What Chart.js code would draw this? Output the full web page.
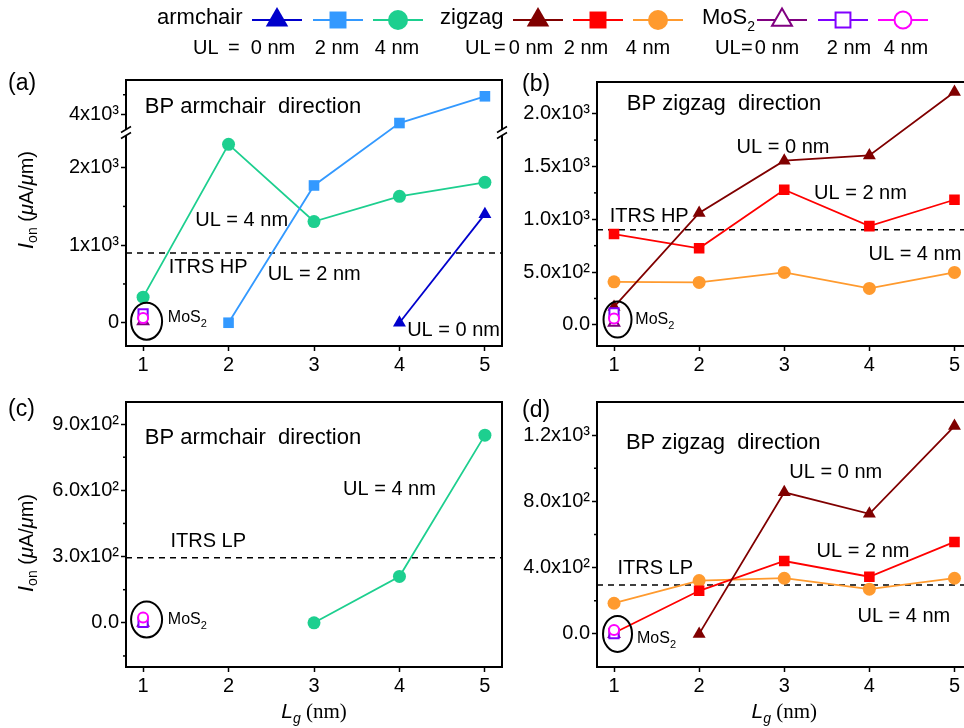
<!DOCTYPE html>
<html>
<head>
<meta charset="utf-8">
<script src="https://cdn.jsdelivr.net/npm/chart.js@4.4.1/dist/chart.umd.min.js"></script>
<style>
  html, body { margin: 0; padding: 0; background: #fff; }
  body { position: relative; width: 964px; height: 728px; overflow: hidden; }
  canvas { position: absolute; }
</style>
</head>
<body>
<canvas id="legend" width="964" height="62" style="left:0px;top:0px"></canvas>
<canvas id="pa" width="515" height="312" style="left:0px;top:60px"></canvas>
<canvas id="pb" width="500" height="312" style="left:480px;top:60px"></canvas>
<canvas id="pc" width="515" height="348" style="left:0px;top:380px"></canvas>
<canvas id="pd" width="500" height="348" style="left:480px;top:380px"></canvas>
<script>
// gate length (nm)
const lg = [1, 2, 3, 4, 5];
const ulValues = [0, 2, 4];

// on-current, high-performance devices (uA/um)
const armHP0 = [null, null, null, 0, 1400];
const armHP2 = [null, 0, 1770, 3885, 4230];
const armHP4 = [330, 2300, 1305, 1630, 1810];
const zigHP0 = [170, 1060, 1555, 1605, 2205];
const zigHP2 = [860, 725, 1280, 935, 1185];
const zigHP4 = [408, 402, 497, 345, 497];
const mosHP = [20, 115, 60];   // MoS2 at Lg = 1 nm, UL = 0 / 2 / 4 nm

// on-current, low-power devices (uA/um)
const armLP4 = [null, null, 0, 210, 850];
const zigLP0 = [null, 0, 855, 725, 1255];
const zigLP2 = [5, 260, 440, 345, 555];
const zigLP4 = [185, 322, 336, 270, 336];
const mosLP = [0, 2, 24];

const itrsHP = 900;
const itrsLP = 295;

// y ticks per panel
const ticksA = [0, 1000, 2000, 4000];
const labelsA = ['0', '1x10³', '2x10³', '4x10³'];
const minorA = [500, 1500, 4250];
const ticksB = [0, 500, 1000, 1500, 2000];
const labelsB = ['0.0', '5.0x10²', '1.0x10³', '1.5x10³', '2.0x10³'];
const minorB = [250, 750, 1250, 1750];
const ticksC = [0, 300, 600, 900];
const labelsC = ['0.0', '3.0x10²', '6.0x10²', '9.0x10²'];
const minorC = [-150, 150, 450, 750];
const ticksD = [0, 400, 800, 1200];
const labelsD = ['0.0', '4.0x10²', '8.0x10²', '1.2x10³'];
const minorD = [200, 600, 1000];

// the armchair HP axis skips this range
const AXIS_BREAK = [2440, 3750];

const FONT = '"Liberation Sans", Arial, sans-serif';
const SERIF = '"Liberation Serif", "Times New Roman", serif';

const styles = {
  arm0: { color: '#0000CC', shape: 'triangle', r: 7.5 },
  arm2: { color: '#3399FF', shape: 'rect', r: 7.5 },
  arm4: { color: '#1DCF8F', shape: 'circle', r: 6.5 },
  zig0: { color: '#800000', shape: 'triangle', r: 7.5 },
  zig2: { color: '#FF0000', shape: 'rect', r: 7.5 },
  zig4: { color: '#FF9A2E', shape: 'circle', r: 6.5 },
  mos0: { color: '#800080', shape: 'triangle', r: 6, hollow: true },
  mos2: { color: '#8000FF', shape: 'rect', r: 6.5, hollow: true },
  mos4: { color: '#FF00FF', shape: 'circle', r: 5, hollow: true }
};

// linear scale with a cut-out band of values
class BrokenLinearScale extends Chart.LinearScale {
  static id = 'brokenLinear';
  static defaults = {};
  squash(v) {
    const [lo, hi] = AXIS_BREAK;
    if (v <= lo) return v;
    if (v >= hi) return v - (hi - lo);
    return lo;
  }
  getPixelForValue(v) {
    if (v === null || v === undefined || isNaN(v)) return NaN;
    const a = this.squash(this.min), b = this.squash(this.max);
    return this.getPixelForDecimal((this.squash(v) - a) / (b - a));
  }
  getValueForPixel(p) {
    const a = this.squash(this.min), b = this.squash(this.max);
    const s = a + this.getDecimalForPixel(p) * (b - a);
    const [lo, hi] = AXIS_BREAK;
    return s <= lo ? s : s + (hi - lo);
  }
}
Chart.register(BrokenLinearScale);

function fontOf(p) {
  return (p.it ? 'italic ' : '') + p.s + 'px ' + (p.serif ? SERIF : FONT);
}

// draws a run of text pieces with their own size / offset
function rich(ctx, x, y, parts, align) {
  ctx.textAlign = 'left';
  let w = 0;
  parts.forEach(p => { ctx.font = fontOf(p); w += ctx.measureText(p.t).width; });
  let cx = align === 'center' ? x - w / 2 : x;
  parts.forEach(p => {
    ctx.font = fontOf(p);
    ctx.fillText(p.t, cx, y + (p.dy || 0));
    cx += ctx.measureText(p.t).width;
  });
}

const txt = (t, s = 20) => [{ t, s }];
const mosText = [{ t: 'MoS', s: 16 }, { t: '2', s: 11, dy: 6 }];

function toPoints(ys) {
  return lg.map((x, i) => ({ x, y: ys[i] })).filter(p => p.y !== null);
}

function lineSet(ys, st) {
  return {
    data: toPoints(ys),
    borderColor: st.color,
    backgroundColor: st.color,
    borderWidth: 1.8,
    pointStyle: st.shape,
    pointRadius: st.r,
    pointBorderWidth: 0,
    pointBackgroundColor: st.color
  };
}

function mosSet(v, st) {
  return {
    data: [{ x: lg[0], y: v }],
    showLine: false,
    borderColor: st.color,
    backgroundColor: '#fff',
    pointStyle: st.shape,
    pointRadius: st.r,
    pointBorderWidth: 2,
    pointBorderColor: st.color,
    pointBackgroundColor: '#fff'
  };
}

function itrsSet(v) {
  return {
    data: [{ x: 0.8, y: v }, { x: 5.2, y: v }],
    borderColor: '#000',
    borderWidth: 1.5,
    borderDash: [6, 5],
    pointRadius: 0
  };
}

function line(ctx, x1, y1, x2, y2) {
  ctx.beginPath();
  ctx.moveTo(x1, y1);
  ctx.lineTo(x2, y2);
  ctx.stroke();
}

function decor(p) {
  return {
    id: 'decor',
    afterDraw(chart) {
      const { ctx, chartArea: ca } = chart;
      const xs = chart.scales.x, ys = chart.scales.y;
      ctx.save();
      ctx.strokeStyle = '#000';
      ctx.fillStyle = '#000';

      ctx.lineWidth = 1.5;
      p.minor.forEach(v => {
        const py = ys.getPixelForValue(v);
        line(ctx, ca.left - 3, py, ca.left, py);
      });

      ctx.lineWidth = 2;
      ctx.strokeRect(ca.left, ca.top, ca.right - ca.left, ca.bottom - ca.top);

      if (p.broken) {
        const yb = ys.getPixelForValue(AXIS_BREAK[0]) - 1;
        [ca.left, ca.right].forEach(ax => {
          ctx.fillStyle = '#fff';
          ctx.fillRect(ax - 2, yb - 3, 4, 6);
          ctx.lineWidth = 1.5;
          [-3, 3].forEach(d => line(ctx, ax - 5, yb + d + 3, ax + 5, yb + d - 3));
        });
        ctx.fillStyle = '#000';
      }

      // ring around the MoS2 points
      ctx.lineWidth = 2;
      ctx.beginPath();
      ctx.ellipse(xs.getPixelForValue(lg[0]) + 3.5, ys.getPixelForValue(p.ring.y),
        p.ring.rx, p.ring.ry, 0, 0, Math.PI * 2);
      ctx.stroke();

      ctx.textBaseline = 'middle';
      p.notes.forEach(n => rich(ctx, xs.getPixelForValue(n.x), ys.getPixelForValue(n.y), n.parts));

      rich(ctx, p.letter.x, p.letter.y, txt(p.letter.t, 23));

      if (p.yTitle) {
        ctx.save();
        ctx.translate(27, p.yTitle);
        ctx.rotate(-Math.PI / 2);
        rich(ctx, 0, 0, [
          { t: 'I', s: 22, it: true }, { t: 'on', s: 14, dy: 6 },
          { t: ' (', s: 20 }, { t: 'μ', s: 20, it: true }, { t: 'A/', s: 20 },
          { t: 'μ', s: 20, it: true }, { t: 'm)', s: 20 }
        ], 'center');
        ctx.restore();
      }
      if (p.xTitle) {
        rich(ctx, (ca.left + ca.right) / 2, p.xTitle, [
          { t: 'L', s: 21, it: true }, { t: 'g', s: 14, it: true, dy: 7 },
          { t: ' (nm)', s: 21, serif: true }
        ], 'center');
      }
      ctx.restore();
    }
  };
}

function makePanel(id, p) {
  return new Chart(document.getElementById(id), {
    type: 'line',
    data: { datasets: p.datasets },
    options: {
      responsive: false,
      animation: false,
      devicePixelRatio: 1,
      events: [],
      layout: { padding: { left: 0, top: p.top, right: p.right, bottom: 0 } },
      plugins: { legend: { display: false }, tooltip: { enabled: false } },
      scales: {
        x: {
          type: 'linear', min: 0.8, max: 5.2,
          afterBuildTicks: s => { s.ticks = lg.map(v => ({ value: v })); },
          afterFit: s => { s.height = p.xh; },
          grid: { drawOnChartArea: false, tickLength: 5, tickWidth: 1.5, tickColor: '#000' },
          border: { color: '#000', width: 2 },
          ticks: { color: '#000', padding: 2, maxRotation: 0, font: { family: FONT, size: 20 },
                   callback: v => String(v) }
        },
        y: {
          type: p.yType || 'linear', min: p.yMin, max: p.yMax, bounds: 'data',
          afterBuildTicks: s => { s.ticks = p.ticks.map(v => ({ value: v })); },
          afterFit: s => { s.width = p.yw; },
          grid: { drawOnChartArea: false, tickLength: 5, tickWidth: 1.5, tickColor: '#000' },
          border: { color: '#000', width: 2 },
          ticks: { color: '#000', padding: 2, font: { family: FONT, size: 20 },
                   callback: (v, i) => p.labels[i] }
        }
      }
    },
    plugins: [decor(p)]
  });
}

const S = styles;

makePanel('pa', {
  yType: 'brokenLinear', yMin: -300, yMax: 4440, ticks: ticksA, labels: labelsA, minor: minorA,
  yw: 126, xh: 26, top: 20, right: 13, broken: true, yTitle: 140,
  letter: { t: '(a)', x: 8, y: 24 },
  ring: { y: mosHP[0], rx: 15.5, ry: 18.5 },
  datasets: [
    mosSet(mosHP[2], S.mos4), mosSet(mosHP[1], S.mos2), mosSet(mosHP[0], S.mos0),
    lineSet(armHP0, S.arm0), lineSet(armHP2, S.arm2), lineSet(armHP4, S.arm4),
    itrsSet(itrsHP)
  ],
  notes: [
    { x: 1.02, y: 4090, parts: txt('BP armchair  direction', 22) },
    { x: 1.61, y: 1324, parts: txt('UL = 4 nm') },
    { x: 1.30, y: 718, parts: txt('ITRS HP') },
    { x: 2.46, y: 628, parts: txt('UL = 2 nm') },
    { x: 4.09, y: -94, parts: txt('UL = 0 nm') },
    { x: 1.29, y: 60, parts: mosText }
  ]
});

makePanel('pb', {
  yMin: -200, yMax: 2300, ticks: ticksB, labels: labelsB, minor: minorB,
  yw: 117, xh: 26, top: 22, right: 8,
  letter: { t: '(b)', x: 42, y: 25 },
  ring: { y: 50, rx: 14, ry: 18 },
  datasets: [
    mosSet(mosHP[2], S.mos4), mosSet(mosHP[1], S.mos2), mosSet(mosHP[0], S.mos0),
    lineSet(zigHP0, S.zig0), lineSet(zigHP2, S.zig2), lineSet(zigHP4, S.zig4),
    itrsSet(itrsHP)
  ],
  notes: [
    { x: 1.15, y: 2088, parts: txt('BP zigzag  direction', 22) },
    { x: 2.44, y: 1682, parts: txt('UL = 0 nm') },
    { x: 3.35, y: 1242, parts: txt('UL = 2 nm') },
    { x: 0.95, y: 1025, parts: txt('ITRS HP') },
    { x: 3.99, y: 663, parts: txt('UL = 4 nm') },
    { x: 1.25, y: 50, parts: mosText }
  ]
});

makePanel('pc', {
  yMin: -200, yMax: 1000, ticks: ticksC, labels: labelsC, minor: minorC,
  yw: 126, xh: 61, top: 22, right: 13, yTitle: 163, xTitle: 332,
  letter: { t: '(c)', x: 8, y: 30 },
  ring: { y: 15, rx: 15.5, ry: 18 },
  datasets: [
    mosSet(mosLP[2], S.mos4), mosSet(mosLP[1], S.mos2), mosSet(mosLP[0], S.mos0),
    lineSet(armLP4, S.arm4),
    itrsSet(itrsLP)
  ],
  notes: [
    { x: 1.02, y: 836, parts: txt('BP armchair  direction', 22) },
    { x: 3.34, y: 606, parts: txt('UL = 4 nm') },
    { x: 1.32, y: 367, parts: txt('ITRS LP') },
    { x: 1.29, y: 15, parts: mosText }
  ]
});

makePanel('pd', {
  yMin: -200, yMax: 1400, ticks: ticksD, labels: labelsD, minor: minorD,
  yw: 117, xh: 61, top: 22, right: 8, xTitle: 332,
  letter: { t: '(d)', x: 42, y: 31 },
  ring: { y: 0, rx: 14.5, ry: 18 },
  datasets: [
    mosSet(mosLP[2], S.mos4), mosSet(mosLP[1], S.mos2), mosSet(mosLP[0], S.mos0),
    lineSet(zigLP0, S.zig0), lineSet(zigLP2, S.zig2), lineSet(zigLP4, S.zig4),
    itrsSet(itrsLP)
  ],
  notes: [
    { x: 1.14, y: 1150, parts: txt('BP zigzag  direction', 22) },
    { x: 3.06, y: 975, parts: txt('UL = 0 nm') },
    { x: 3.38, y: 495, parts: txt('UL = 2 nm') },
    { x: 1.04, y: 392, parts: txt('ITRS LP') },
    { x: 3.86, y: 106, parts: txt('UL = 4 nm') },
    { x: 1.27, y: -28, parts: mosText }
  ]
});

// shared legend across the top
const legendGroups = [
  { name: [{ t: 'armchair', s: 22 }], x: 157, keys: ['arm0', 'arm2', 'arm4'],
    cx: [277, 338, 398], ulX: 193, eqX: 228, ulCx: [273, 337, 397] },
  { name: [{ t: 'zigzag', s: 22 }], x: 440, keys: ['zig0', 'zig2', 'zig4'],
    cx: [538, 598, 658], ulX: 465, eqX: 494, ulCx: [531, 586, 648] },
  { name: [{ t: 'MoS', s: 22 }, { t: '2', s: 14, dy: 9 }], x: 702, keys: ['mos0', 'mos2', 'mos4'],
    cx: [782, 843, 903], ulX: 715, eqX: 741, ulCx: [777, 849, 906] }
];
const legendR = { triangle: 13, rect: 12, circle: 10 };

(function drawLegend() {
  const ctx = document.getElementById('legend').getContext('2d');
  ctx.textBaseline = 'middle';
  legendGroups.forEach(g => {
    ctx.fillStyle = '#000';
    rich(ctx, g.x, 18, g.name);
    g.keys.forEach((k, i) => {
      const st = styles[k];
      ctx.strokeStyle = st.color;
      ctx.lineWidth = 2;
      line(ctx, g.cx[i] - 25, 20, g.cx[i] + 25, 20);
      ctx.fillStyle = st.hollow ? '#fff' : st.color;
      Chart.helpers.drawPoint(ctx, {
        pointStyle: st.shape, radius: legendR[st.shape] - (st.hollow ? 1.5 : 0),
        rotation: 0, borderWidth: st.hollow ? 3 : 0
      }, g.cx[i], 20);
      ctx.fillStyle = '#000';
      ctx.textAlign = 'center';
      ctx.font = '20px ' + FONT;
      ctx.fillText(ulValues[i] + ' nm', g.ulCx[i], 48);
    });
    rich(ctx, g.ulX, 48, txt('UL', 20));
    rich(ctx, g.eqX, 48, txt('=', 20));
  });
})();
</script>
</body>
</html>
